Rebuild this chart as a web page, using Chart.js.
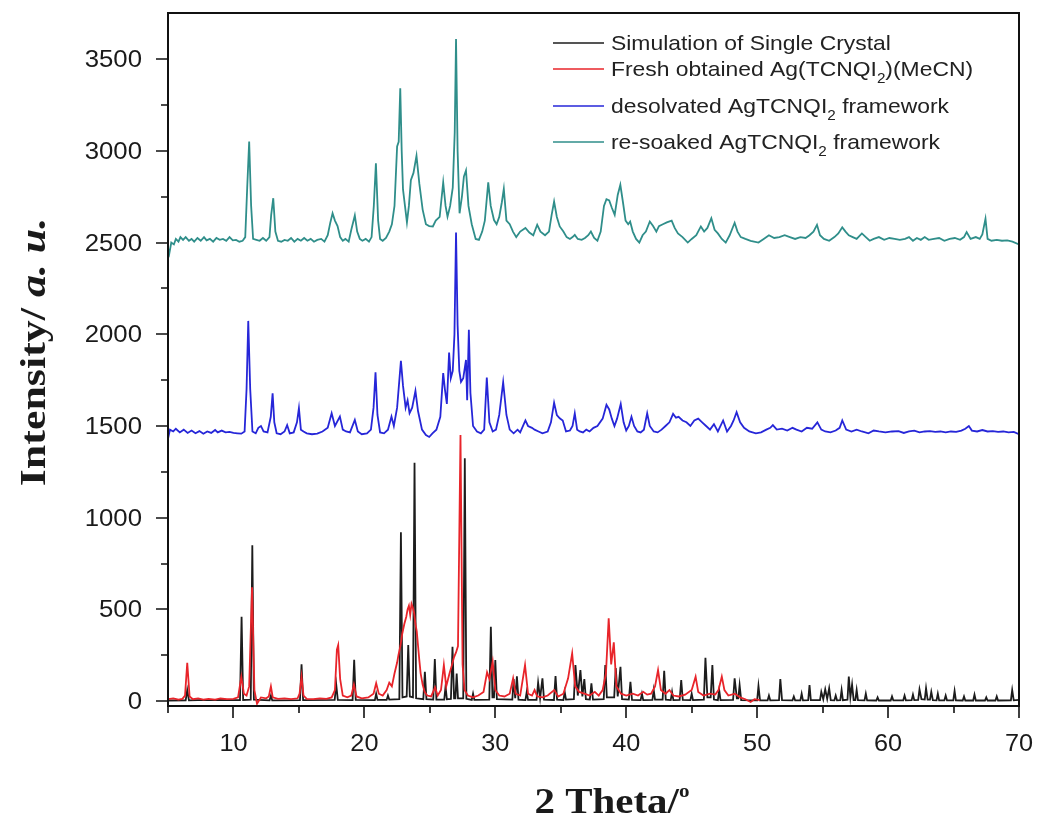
<!DOCTYPE html>
<html>
<head>
<meta charset="utf-8">
<script src="https://cdn.jsdelivr.net/npm/chart.js@4.4.0/dist/chart.umd.min.js"></script>
<style>
  html, body { margin: 0; padding: 0; background: #fff; overflow: hidden; }
  canvas { display: block; }
</style>
</head>
<body>
<canvas id="xrd" width="1039" height="818"></canvas>
<script>
// Simulated pattern from the single-crystal structure
const simX = [5.0,6.35,6.47,6.6,8.0,10.5,10.62,10.74,11.32,11.44,11.56,12.76,12.86,12.96,15.08,15.2,15.32,17.73,17.85,17.97,19.1,19.22,19.34,20.8,20.9,21.0,21.7,21.8,21.9,22.67,22.79,22.91,23.23,23.35,23.47,23.71,23.83,23.95,24.5,24.62,24.74,25.26,25.38,25.5,26.1,26.2,26.3,26.61,26.73,26.85,26.95,27.05,27.15,27.55,27.67,27.79,28.2,28.3,28.4,29.54,29.66,29.78,29.9,30.0,30.12,31.3,31.4,31.52,31.65,31.77,32.3,32.4,32.5,33.15,33.27,33.42,33.6,33.72,34.48,34.6,34.72,35.2,35.3,35.4,36.0,36.12,36.3,36.5,36.65,36.8,36.92,37.22,37.34,37.46,38.28,38.4,38.52,39.08,39.2,39.35,39.56,39.68,40.2,40.32,40.44,41.1,41.2,41.3,42.0,42.1,42.2,42.78,42.9,43.02,43.4,43.5,43.6,44.08,44.2,44.32,44.9,45.0,45.1,45.93,46.05,46.2,46.45,46.58,46.7,47.0,47.1,47.2,48.16,48.28,48.45,48.56,48.66,48.78,50.0,50.1,50.22,50.8,50.9,51.0,51.67,51.77,51.9,52.7,52.8,52.9,53.3,53.4,53.5,53.9,54.0,54.1,54.8,54.9,55.05,55.2,55.35,55.5,55.62,55.9,56.0,56.1,56.35,56.45,56.55,56.9,57.0,57.12,57.25,57.37,57.5,57.6,57.7,58.2,58.3,58.4,59.1,59.2,59.3,60.2,60.3,60.4,61.16,61.26,61.36,61.8,61.9,62.0,62.3,62.4,62.55,62.8,62.9,63.02,63.2,63.3,63.42,63.7,63.8,63.9,64.3,64.4,64.5,64.98,65.08,65.18,65.7,65.8,65.9,66.5,66.6,66.7,67.4,67.5,67.6,68.2,68.3,68.4,69.38,69.48,69.6,70.0];
const simY = [3,4,60,4,6,5,460,6,8,850,8,4,30,4,5,200,5,6,90,6,5,225,6,5,40,6,6,30,8,10,920,20,25,305,25,20,1300,15,10,160,10,8,229,8,8,80,10,12,296,15,15,150,15,15,1324,12,6,40,6,8,405,20,20,224,10,8,120,15,135,8,5,50,6,6,100,15,124,8,6,136,8,5,50,8,10,196,30,169,25,120,10,8,96,8,10,196,20,20,180,25,187,10,8,105,6,5,40,5,6,60,8,8,165,8,5,50,5,6,115,6,5,40,5,8,236,20,20,196,8,5,60,5,6,124,15,15,87,5,4,82,4,4,30,4,5,120,5,4,25,4,4,40,4,5,87,5,5,50,10,64,12,70,5,4,30,4,5,60,5,8,133,20,90,5,5,60,5,4,40,4,3,20,3,3,25,4,4,30,4,5,35,5,6,64,10,8,70,8,8,50,5,4,40,4,4,30,4,4,55,4,3,25,3,3,35,3,3,20,3,3,25,3,4,60,4,6];

// Freshly obtained Ag(TCNQI2)(MeCN)
const freshX = [5.0,5.4,5.8,6.1,6.3,6.47,6.65,6.9,7.3,7.7,8.1,8.6,9.0,9.5,10.0,10.35,10.6,10.8,11.0,11.2,11.42,11.6,11.8,12.1,12.5,12.7,12.86,13.0,13.4,13.9,14.4,14.9,15.05,15.2,15.35,15.6,16.1,16.6,17.1,17.5,17.75,17.9,18.0,18.15,18.35,18.7,19.0,19.2,19.4,19.8,20.3,20.7,20.9,21.1,21.4,21.7,21.9,22.1,22.3,22.5,22.6,22.75,22.9,23.05,23.2,23.3,23.4,23.5,23.6,23.7,23.8,23.9,24.0,24.1,24.2,24.3,24.45,24.6,24.8,25.1,25.4,25.6,25.85,26.07,26.25,26.5,26.7,26.85,27.0,27.15,27.34,27.5,27.65,27.9,28.3,28.7,29.1,29.37,29.55,29.8,30.0,30.3,30.7,31.1,31.36,31.55,31.9,32.27,32.5,32.8,33.0,33.2,33.6,34.0,34.5,34.8,35.2,35.56,35.87,36.1,36.4,36.8,37.2,37.6,37.9,38.2,38.45,38.66,38.85,39.05,39.25,39.6,40.0,40.5,40.9,41.3,41.6,41.9,42.2,42.43,42.65,43.0,43.3,43.6,44.0,44.5,45.0,45.3,45.5,45.9,46.4,46.8,47.05,47.3,47.5,47.8,48.3,48.7,49.1,49.5,49.8,50.2];
const freshY = [10,15,8,12,30,209,25,10,14,8,12,8,14,10,12,20,132,40,30,80,620,60,-15,20,15,25,80,20,12,15,10,15,40,133,30,12,10,15,12,20,60,280,305,120,30,20,30,90,25,15,20,40,97,40,30,60,100,80,150,210,250,300,370,420,460,500,520,470,530,510,480,420,380,300,220,150,90,50,30,25,75,30,60,196,80,150,200,240,265,300,1451,200,60,30,20,30,50,157,120,215,60,30,25,40,124,40,30,196,40,30,60,25,20,30,60,25,40,124,260,80,50,40,30,50,30,60,150,451,200,320,80,40,30,40,30,50,35,40,80,169,60,40,60,30,25,35,60,133,50,30,40,35,60,133,60,30,40,20,10,-5,10,5];

// Desolvated AgTCNQI2 framework
const desX = [5.0,5.15,5.4,5.6,5.9,6.2,6.5,6.8,7.1,7.4,7.7,8.0,8.3,8.6,8.8,9.1,9.4,9.7,10.0,10.3,10.6,10.85,11.0,11.13,11.28,11.45,11.7,11.9,12.1,12.3,12.6,12.85,12.99,13.12,13.3,13.6,13.9,14.1,14.3,14.6,14.85,15.0,15.15,15.35,15.6,16.0,16.4,16.8,17.2,17.5,17.75,18.13,18.35,18.6,18.9,19.27,19.5,19.8,20.2,20.5,20.7,20.85,21.0,21.2,21.5,21.8,22.07,22.25,22.5,22.79,22.95,23.15,23.3,23.45,23.65,23.9,24.1,24.4,24.7,24.95,25.2,25.5,25.8,26.02,26.15,26.3,26.47,26.6,26.75,26.88,27.0,27.12,27.25,27.38,27.55,27.76,27.85,27.98,28.1,28.3,28.6,28.9,29.15,29.35,29.55,29.8,30.05,30.3,30.6,30.85,31.1,31.4,31.7,31.9,32.3,32.5,32.8,33.0,33.3,33.6,34.0,34.25,34.49,34.7,34.92,35.15,35.4,35.7,35.9,36.07,36.25,36.45,36.7,36.95,37.2,37.5,37.8,38.2,38.49,38.7,38.9,39.1,39.3,39.58,39.8,40.0,40.2,40.4,40.6,40.85,41.1,41.35,41.6,41.8,42.1,42.4,42.7,43.0,43.3,43.58,43.8,44.0,44.3,44.6,44.9,45.2,45.5,45.8,46.1,46.4,46.7,47.0,47.4,47.7,48.0,48.2,48.43,48.7,49.0,49.4,49.9,50.3,50.7,51.0,51.2,51.5,51.9,52.3,52.7,53.0,53.4,53.8,54.2,54.6,54.9,55.2,55.6,56.0,56.3,56.5,56.8,57.2,57.6,58.0,58.5,58.9,59.3,59.8,60.3,60.8,61.2,61.6,62.0,62.4,62.8,63.2,63.6,64.0,64.4,64.8,65.2,65.6,65.9,66.17,66.4,66.8,67.2,67.6,68.0,68.4,68.8,69.2,69.6,70.0];
const desY = [1430,1480,1470,1485,1465,1480,1462,1475,1460,1472,1458,1470,1462,1478,1465,1475,1465,1468,1462,1460,1458,1470,1700,2073,1700,1470,1460,1490,1500,1470,1465,1550,1678,1520,1460,1455,1470,1505,1460,1465,1520,1597,1480,1470,1460,1455,1458,1470,1490,1569,1500,1551,1480,1470,1465,1533,1470,1455,1460,1480,1600,1793,1560,1465,1460,1480,1551,1500,1600,1855,1720,1600,1640,1570,1600,1691,1580,1480,1450,1440,1460,1480,1550,1788,1700,1620,1900,1760,1800,2000,2555,2050,1800,1740,1760,1860,1640,2024,1680,1500,1470,1460,1480,1764,1520,1470,1480,1560,1739,1560,1480,1460,1480,1465,1530,1500,1490,1480,1470,1460,1470,1520,1627,1560,1542,1530,1470,1475,1500,1569,1480,1470,1465,1480,1470,1490,1500,1540,1615,1590,1540,1500,1540,1620,1520,1475,1500,1550,1500,1470,1465,1480,1569,1500,1470,1465,1480,1500,1520,1566,1545,1550,1530,1520,1500,1530,1540,1520,1500,1480,1510,1470,1530,1470,1500,1530,1575,1520,1490,1470,1460,1465,1480,1490,1505,1480,1485,1475,1490,1480,1470,1490,1485,1520,1480,1470,1465,1475,1490,1530,1480,1470,1480,1470,1460,1475,1470,1465,1470,1472,1462,1470,1475,1465,1470,1472,1468,1470,1465,1470,1468,1475,1485,1500,1475,1470,1478,1470,1472,1468,1470,1465,1468,1455];

// Re-soaked AgTCNQI2 framework
const soakX = [5.0,5.1,5.25,5.45,5.6,5.8,5.95,6.15,6.35,6.6,6.8,7.0,7.25,7.5,7.75,7.95,8.2,8.45,8.7,8.95,9.2,9.45,9.7,9.95,10.2,10.45,10.7,10.9,11.05,11.2,11.35,11.5,11.75,12.0,12.25,12.5,12.75,12.88,13.04,13.2,13.4,13.65,13.9,14.15,14.4,14.65,14.9,15.15,15.4,15.65,15.9,16.15,16.4,16.7,16.95,17.2,17.4,17.57,17.75,17.95,18.15,18.35,18.55,18.8,19.0,19.27,19.45,19.65,19.85,20.1,20.35,20.55,20.72,20.88,21.05,21.2,21.4,21.65,21.9,22.1,22.3,22.5,22.62,22.74,22.85,22.95,23.1,23.25,23.4,23.55,23.75,23.98,24.2,24.45,24.7,24.95,25.23,25.45,25.75,26.02,26.2,26.35,26.55,26.75,26.9,27.0,27.12,27.27,27.45,27.6,27.76,27.95,28.2,28.5,28.75,29.0,29.2,29.46,29.65,29.9,30.1,30.3,30.5,30.65,30.85,31.1,31.35,31.6,31.9,32.3,32.6,32.9,33.2,33.45,33.8,34.1,34.3,34.49,34.7,34.92,35.2,35.45,35.7,35.9,36.07,36.3,36.6,36.85,37.1,37.3,37.55,37.8,38.05,38.3,38.49,38.7,38.9,39.12,39.35,39.55,39.75,39.95,40.15,40.3,40.5,40.75,41.0,41.25,41.5,41.8,42.05,42.3,42.5,42.8,43.1,43.47,43.7,43.95,44.3,44.7,45.0,45.35,45.7,45.95,46.2,46.5,46.75,47.0,47.3,47.6,47.9,48.28,48.5,48.75,49.1,49.5,50.1,50.5,50.9,51.3,51.7,52.1,52.5,52.9,53.3,53.7,54.0,54.3,54.57,54.8,55.1,55.5,55.9,56.2,56.5,56.75,57.0,57.3,57.6,58.0,58.3,58.6,58.9,59.3,59.7,60.1,60.5,60.9,61.3,61.6,61.9,62.2,62.5,62.8,63.1,63.5,63.9,64.3,64.7,65.1,65.5,65.8,66.0,66.3,66.7,67.0,67.2,67.44,67.6,67.9,68.3,68.7,69.1,69.5,70.0];
const soakY = [2471,2440,2500,2490,2520,2505,2530,2515,2530,2510,2520,2505,2525,2510,2530,2512,2520,2505,2525,2515,2520,2510,2530,2512,2515,2505,2510,2530,2800,3051,2700,2520,2515,2510,2525,2510,2530,2650,2742,2560,2510,2505,2515,2510,2525,2505,2520,2510,2525,2510,2520,2505,2515,2520,2505,2540,2610,2660,2620,2590,2530,2510,2520,2505,2570,2648,2560,2520,2510,2520,2505,2530,2700,2933,2620,2520,2510,2525,2560,2600,2700,3024,3050,3342,3000,2790,2700,2610,2700,2840,2880,2973,2820,2680,2600,2590,2588,2620,2640,2828,2700,2641,2700,2800,3100,3610,3000,2660,2750,2860,2893,2700,2600,2520,2515,2560,2620,2828,2700,2623,2600,2640,2720,2793,2620,2600,2560,2530,2560,2580,2555,2540,2597,2560,2540,2560,2650,2724,2640,2588,2560,2530,2520,2530,2542,2520,2515,2525,2540,2560,2525,2510,2560,2700,2737,2730,2690,2651,2760,2815,2720,2620,2600,2615,2560,2520,2500,2540,2560,2615,2590,2560,2590,2600,2610,2620,2580,2550,2530,2500,2520,2540,2588,2560,2580,2633,2570,2550,2520,2500,2540,2608,2560,2530,2520,2510,2500,2520,2540,2525,2530,2540,2530,2520,2530,2525,2540,2560,2597,2540,2520,2510,2530,2550,2583,2560,2540,2530,2520,2550,2530,2510,2520,2530,2515,2525,2520,2515,2520,2530,2510,2525,2515,2530,2515,2520,2525,2510,2520,2525,2515,2530,2557,2520,2530,2520,2545,2630,2520,2510,2515,2510,2512,2505,2490];

const seriesNames = [
  ['Simulation of Single Crystal'],
  ['Fresh obtained Ag(TCNQI', '2', ')(MeCN)'],
  ['desolvated AgTCNQI', '2', ' framework'],
  ['re-soaked AgTCNQI', '2', ' framework']
];
const seriesColors = ['#1c1c1c', '#e8242a', '#2626d8', '#2f8e8a'];

const xTicks = [10, 20, 30, 40, 50, 60, 70];
const xMinor = [5, 15, 25, 35, 45, 55, 65];
const yTicks = [0, 500, 1000, 1500, 2000, 2500, 3000, 3500];
const yMinor = [250, 750, 1250, 1750, 2250, 2750, 3250];

const X_MIN = 5, X_MAX = 70, Y_MIN = -27, Y_MAX = 3752;

const SANS = '"Liberation Sans", Arial, sans-serif';
const SERIF = '"Liberation Serif", "Times New Roman", serif';

function points(xs, ys) {
  return xs.map((x, i) => ({ x: x, y: ys[i] }));
}

// Draws a run of text pieces (each with its own font / vertical shift),
// stretched by sx along the writing direction.
function drawRich(ctx, parts, x, y, align, sx, angle) {
  let total = 0;
  parts.forEach(p => { ctx.font = p.font; p.w = ctx.measureText(p.t).width; total += p.w; });
  ctx.save();
  ctx.translate(x, y);
  if (angle) ctx.rotate(angle);
  ctx.scale(sx, 1);
  let cx = align === 'center' ? -total / 2 : (align === 'right' ? -total : 0);
  ctx.textAlign = 'left';
  parts.forEach(p => { ctx.font = p.font; ctx.fillText(p.t, cx, p.dy || 0); cx += p.w; });
  ctx.restore();
}

const axesDecor = {
  id: 'axesDecor',
  afterDraw(chart) {
    const ctx = chart.ctx;
    const a = chart.chartArea;
    const xs = chart.scales.x, ys = chart.scales.y;
    ctx.save();
    ctx.strokeStyle = '#111';
    ctx.fillStyle = '#1a1a1a';

    // frame
    ctx.lineWidth = 2;
    ctx.strokeRect(a.left, a.top, a.right - a.left, a.bottom - a.top);

    // ticks
    ctx.lineWidth = 1.6;
    ctx.beginPath();
    xTicks.forEach(v => { const p = Math.round(xs.getPixelForValue(v)); ctx.moveTo(p, a.bottom); ctx.lineTo(p, a.bottom + 12); });
    xMinor.forEach(v => { const p = Math.round(xs.getPixelForValue(v)); ctx.moveTo(p, a.bottom); ctx.lineTo(p, a.bottom + 7); });
    yTicks.forEach(v => { const p = Math.round(ys.getPixelForValue(v)); ctx.moveTo(a.left, p); ctx.lineTo(a.left - 12, p); });
    yMinor.forEach(v => { const p = Math.round(ys.getPixelForValue(v)); ctx.moveTo(a.left, p); ctx.lineTo(a.left - 7, p); });
    ctx.stroke();

    // tick labels
    ctx.textBaseline = 'alphabetic';
    xTicks.forEach(v => {
      drawRich(ctx, [{ t: String(v), font: '23px ' + SANS }], xs.getPixelForValue(v), a.bottom + 45, 'center', 1.1);
    });
    yTicks.forEach(v => {
      drawRich(ctx, [{ t: String(v), font: '23px ' + SANS }], a.left - 26, ys.getPixelForValue(v) + 8, 'right', 1.12);
    });

    // axis titles
    drawRich(ctx, [
      { t: '2 Theta/', font: 'bold 35px ' + SERIF },
      { t: 'o', font: 'bold 18px ' + SERIF, dy: -16 }
    ], 612, 813, 'center', 1.17);
    drawRich(ctx, [
      { t: 'Intensity/ ', font: 'bold 36px ' + SERIF },
      { t: 'a. u.', font: 'italic bold 36px ' + SERIF }
    ], 45, 352, 'center', 1.22, -Math.PI / 2);

    // legend
    const rowsY = [50, 76, 113, 149];
    seriesNames.forEach((name, i) => {
      const y = rowsY[i];
      ctx.strokeStyle = seriesColors[i];
      ctx.lineWidth = 1.7;
      ctx.beginPath();
      ctx.moveTo(553, y - 7);
      ctx.lineTo(604, y - 7);
      ctx.stroke();
      ctx.fillStyle = '#222';
      const parts = name.map((t, k) => k === 1
        ? { t: t, font: '14px ' + SANS, dy: 7 }
        : { t: t, font: '21px ' + SANS });
      drawRich(ctx, parts, 611, y, 'left', 1.09);
    });
    ctx.restore();
  }
};

const datasets = [
  { data: points(simX, simY), borderColor: seriesColors[0], order: 4 },
  { data: points(freshX, freshY), borderColor: seriesColors[1], order: 3 },
  { data: points(desX, desY), borderColor: seriesColors[2], order: 2 },
  { data: points(soakX, soakY), borderColor: seriesColors[3], order: 1 }
].map((d, i) => Object.assign(d, {
  label: seriesNames[i].join(''),
  borderWidth: 1.8,
  pointRadius: 0,
  tension: 0,
  fill: false
}));

new Chart(document.getElementById('xrd').getContext('2d'), {
  type: 'line',
  data: { datasets: datasets },
  options: {
    responsive: false,
    animation: false,
    layout: { padding: { left: 0, top: 13, right: 20, bottom: 0 } },
    plugins: { legend: { display: false }, tooltip: { enabled: false } },
    scales: {
      x: {
        type: 'linear', min: X_MIN, max: X_MAX,
        ticks: { display: false }, grid: { display: false }, border: { display: false },
        afterFit(s) { s.height = 112; }
      },
      y: {
        type: 'linear', min: Y_MIN, max: Y_MAX,
        ticks: { display: false }, grid: { display: false }, border: { display: false },
        afterFit(s) { s.width = 168; }
      }
    }
  },
  plugins: [axesDecor]
});
</script>
</body>
</html>
